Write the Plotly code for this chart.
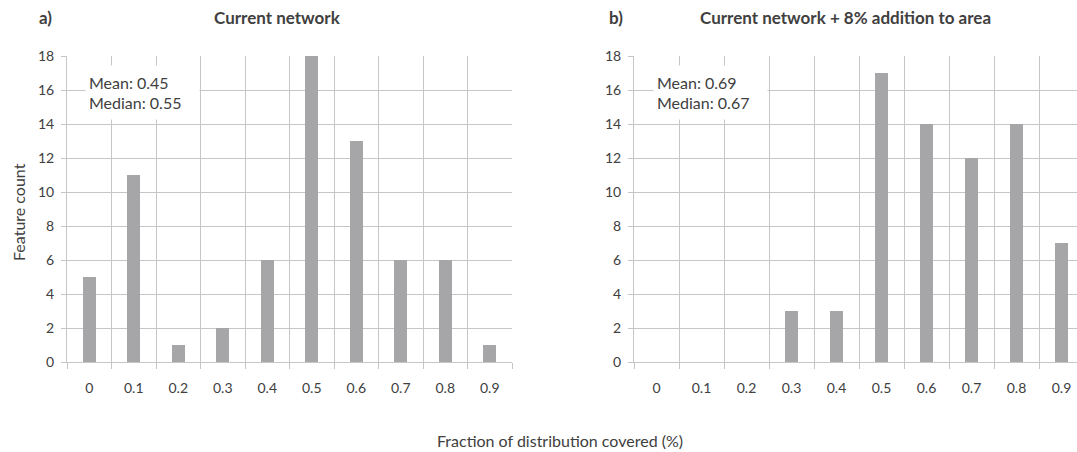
import plotly.graph_objects as go

# Histogram bins and feature counts for the two scenarios
bins = ["0", "0.1", "0.2", "0.3", "0.4", "0.5", "0.6", "0.7", "0.8", "0.9"]
counts_current = [5, 11, 1, 2, 6, 18, 13, 6, 6, 1]
counts_expanded = [0, 0, 0, 3, 3, 17, 14, 12, 14, 7]
stats_current = "Mean: 0.45<br>Median: 0.55"
stats_expanded = "Mean: 0.69<br>Median: 0.67"
y_ticks = list(range(0, 19, 2))

W, H = 1077, 452
FONT = "Lato, Carlito, Calibri, sans-serif"
TXT = "#404040"
GRID = "#c6c6c6"
BAR = "#a6a6a8"

positions = list(range(len(bins)))
edges = [p - 0.5 for p in range(len(bins) + 1)]

def px(x):
    return x / W

def py(y):
    return 1 - y / H

fig = go.Figure()
fig.add_trace(go.Bar(x=positions, y=counts_current, width=0.3, marker_color=BAR,
                     marker_line_width=0, xaxis="x", yaxis="y", showlegend=False))
fig.add_trace(go.Bar(x=positions, y=counts_expanded, width=0.3, marker_color=BAR,
                     marker_line_width=0, xaxis="x2", yaxis="y2", showlegend=False))

y_dom = [py(362), py(56)]

def xaxis(domain, rng, anchor):
    return dict(
        domain=domain, range=rng, anchor=anchor, automargin=False,
        tickmode="array", tickvals=positions, ticktext=bins,
        ticks="", showgrid=False, zeroline=False,
        showline=True, linecolor=GRID, linewidth=1,
        tickfont=dict(family=FONT, size=14, color=TXT),
        ticklabelstandoff=13,
        minor=dict(tickmode="array", tickvals=edges, ticks="outside", ticklen=6,
                   tickcolor=GRID, showgrid=True, gridcolor=GRID, gridwidth=1),
        fixedrange=True,
    )

def yaxis(anchor):
    return dict(
        domain=y_dom, range=[0, 18], anchor=anchor, automargin=False,
        tickmode="array", tickvals=y_ticks,
        ticks="outside", ticklen=5, tickcolor=GRID,
        showgrid=True, gridcolor=GRID, gridwidth=1, zeroline=False,
        showline=True, linecolor=GRID, linewidth=1,
        tickfont=dict(family=FONT, size=14, color=TXT),
        ticklabelstandoff=4,
        fixedrange=True,
    )

annotations = [
    dict(text="<b>a)</b>", x=px(37), y=py(17), xanchor="left", yanchor="middle",
         font=dict(size=17, color=TXT, family=FONT)),
    dict(text="<b>Current network</b>", x=px(277), y=py(17), xanchor="center", yanchor="middle",
         font=dict(size=17, color=TXT, family=FONT)),
    dict(text="<b>b)</b>", x=px(607), y=py(17), xanchor="left", yanchor="middle",
         font=dict(size=17, color=TXT, family=FONT)),
    dict(text="<b>Current network + 8% addition to area</b>", x=px(845), y=py(17),
         xanchor="center", yanchor="middle",
         font=dict(size=17, color=TXT, family=FONT)),
    dict(text="Feature count", x=px(18), y=py(212), xanchor="center", yanchor="middle",
         textangle=-90, font=dict(size=16, color=TXT, family=FONT)),
    dict(text="Fraction of distribution covered (%)", x=px(560), y=py(440),
         xanchor="center", yanchor="middle", font=dict(size=16, color=TXT, family=FONT)),
    dict(text=stats_current, x=px(85), y=py(65), xanchor="left", yanchor="top",
         align="left", bgcolor="white", width=107, height=47, borderpad=3,
         font=dict(size=16, color=TXT, family=FONT)),
    dict(text=stats_expanded, x=px(653), y=py(65), xanchor="left", yanchor="top",
         align="left", bgcolor="white", width=107, height=47, borderpad=3,
         font=dict(size=16, color=TXT, family=FONT)),
]
for a in annotations:
    a.update(xref="paper", yref="paper", showarrow=False)

fig.update_layout(
    width=W, height=H,
    margin=dict(l=0, r=0, t=0, b=0, autoexpand=False),
    paper_bgcolor="white", plot_bgcolor="white",
    bargap=0,
    xaxis=xaxis([px(67), px(512)], [-0.5, 9.5], "y"),
    yaxis=yaxis("x"),
    xaxis2=xaxis([px(634), 1.0], [-0.5, 9.5 - 7 / 45], "y2"),
    yaxis2=yaxis("x2"),
    annotations=annotations,
    font=dict(family=FONT, color=TXT),
)

fig.write_html("out.html", config={"displayModeBar": False})
